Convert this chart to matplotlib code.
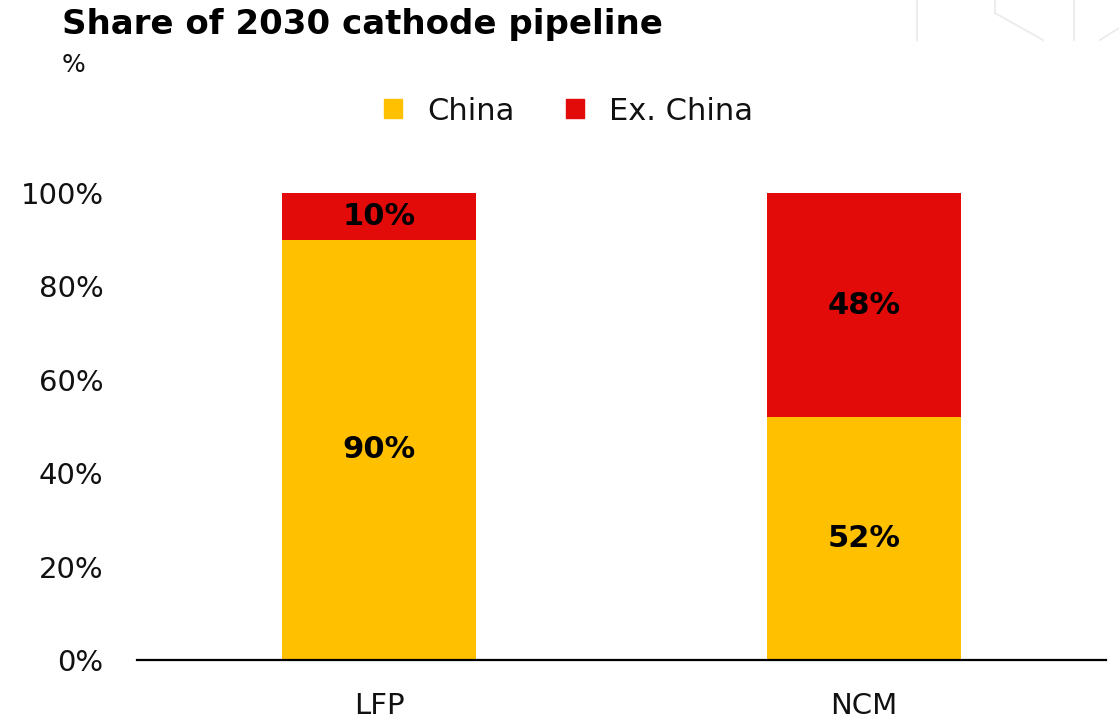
import matplotlib.pyplot as plt
from matplotlib.lines import Line2D
from matplotlib.patches import Patch

# data
categories = ['LFP', 'NCM']
china = [90, 52]
ex_china = [10, 48]

yellow = '#FFC000'
red = '#E30A0A'

plt.rcParams['font.family'] = ['DejaVu Sans']

fig = plt.figure(figsize=(11.19, 7.21), dpi=100)
ax = fig.add_axes([0.1224, 0.0846, 0.8660, 0.6477])

x = range(len(categories))
ax.bar(x, china, width=0.4, color=yellow)
ax.bar(x, ex_china, width=0.4, bottom=china, color=red)

# value labels in the middle of each segment
for i in x:
    ax.text(i, china[i] / 2, f'{china[i]}%', ha='center', va='center',
            fontsize=22, fontweight='bold')
    ax.text(i, china[i] + ex_china[i] / 2, f'{ex_china[i]}%', ha='center',
            va='center', fontsize=22, fontweight='bold')

ax.set_xlim(-0.5, 1.5)
ax.set_ylim(0, 100)
ax.set_yticks(range(0, 101, 20))
ax.set_yticklabels([f'{v}%' for v in range(0, 101, 20)])
ax.set_xticks(list(x))
ax.set_xticklabels(categories)
ax.tick_params(axis='y', length=0, pad=24, labelsize=21, labelcolor='#111111')
ax.tick_params(axis='x', length=0, pad=23, labelsize=21, labelcolor='#111111')
for s in ['top', 'right', 'left']:
    ax.spines[s].set_visible(False)
ax.spines['bottom'].set_linewidth(1.6)

# title and unit
fig.text(0.0554, 0.966, 'Share of 2030 cathode pipeline', fontsize=24.5,
         fontweight='bold', va='center')
fig.text(0.0554, 0.910, '%', fontsize=18, va='center', color='#111111')

handles = [Patch(color=yellow, label='China'), Patch(color=red, label='Ex. China')]
leg = fig.legend(handles=handles, loc='center', bbox_to_anchor=(0.508, 0.846),
                 ncol=2, frameon=False, fontsize=22, handlelength=0.6,
                 handleheight=0.6, handletextpad=0.8, columnspacing=1.7)
for t in leg.get_texts():
    t.set_color('#111111')

# faint hexagon outline in the top right corner
grey = '#EBEBEB'
segs = [
    ([917, 917], [0, 40]),
    ([995, 995], [0, 13]),
    ([995, 1043], [13, 40]),
    ([1074, 1074], [0, 40]),
    ([1119, 1100], [28, 40]),
]
for xs, ys in segs:
    fig.add_artist(Line2D([v / 1119 for v in xs], [1 - v / 721 for v in ys],
                          color=grey, lw=1.3, transform=fig.transFigure))

fig.savefig('out.png', dpi=100)
